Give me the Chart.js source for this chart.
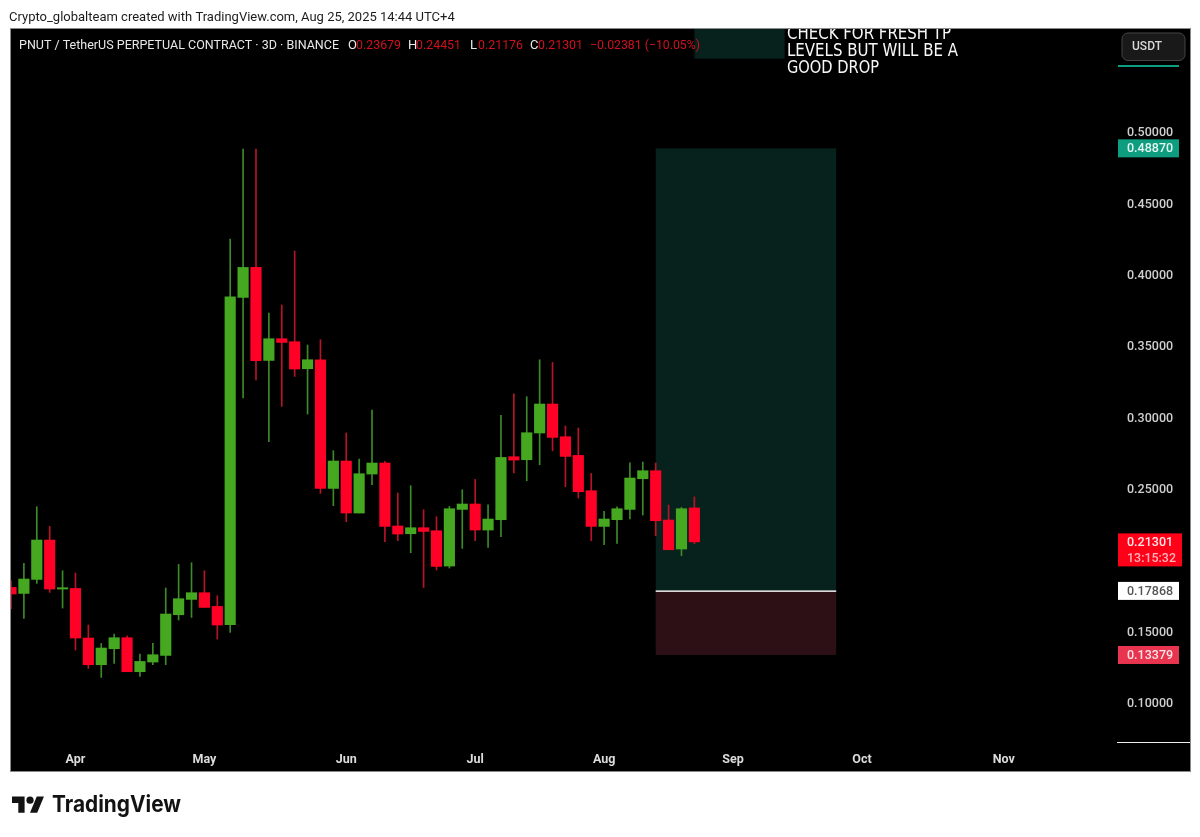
<!DOCTYPE html>
<html>
<head>
<meta charset="utf-8">
<title>PNUT / TetherUS 3D</title>
<script src="https://cdn.jsdelivr.net/npm/chart.js@4/dist/chart.umd.js"></script>
<style>
  html, body { margin: 0; padding: 0; background: #fff; }
  canvas { display: block; }
</style>
</head>
<body>
<canvas id="candles" width="1200" height="837"></canvas>
<script>
// PNUT 3D candles
var openVals = [0.18111, 0.17691, 0.18672, 0.21432, 0.17999, 0.18041, 0.14567, 0.12696, 0.13817, 0.14588,
  0.12206, 0.12885, 0.13348, 0.16199, 0.17271, 0.1774, 0.1678, 0.15498, 0.38427, 0.40528,
  0.34013, 0.35534, 0.35323, 0.33432, 0.34062, 0.25047, 0.26966, 0.23323, 0.26055, 0.26826,
  0.22413, 0.21873, 0.22294, 0.22083, 0.1961, 0.23576, 0.23954, 0.22132, 0.22854, 0.27267,
  0.27057, 0.28928, 0.30959, 0.28668, 0.27358, 0.24886, 0.22385, 0.22854, 0.23576, 0.25726,
  0.26287, 0.22833, 0.20801, 0.23679];
var highVals = [0.18581, 0.19793, 0.23765, 0.22385, 0.19281, 0.1912, 0.15477, 0.14188, 0.14847, 0.14728,
  0.13446, 0.14188, 0.18069, 0.19723, 0.19842, 0.19281, 0.1753, 0.42518, 0.48823, 0.48823,
  0.37334, 0.37895, 0.41677, 0.35092, 0.35464, 0.27688, 0.28928, 0.27106, 0.30539, 0.26938,
  0.24724, 0.25236, 0.23555, 0.23064, 0.23786, 0.24956, 0.25677, 0.23905, 0.30161, 0.31681,
  0.31471, 0.34062, 0.33873, 0.29418, 0.29278, 0.26097, 0.23435, 0.23765, 0.26847, 0.26896,
  0.26826, 0.23884, 0.23716, 0.24451];
var lowVals = [0.16619, 0.1594, 0.18392, 0.17761, 0.16668, 0.13726, 0.12437, 0.11807, 0.12787, 0.12206,
  0.11877, 0.12696, 0.12696, 0.15828, 0.1601, 0.1671, 0.14497, 0.14959, 0.31379, 0.3264,
  0.28318, 0.30791, 0.32893, 0.30259, 0.24696, 0.23835, 0.22714, 0.23323, 0.25306, 0.21313,
  0.21383, 0.20542, 0.18111, 0.1933, 0.1947, 0.20843, 0.21383, 0.20913, 0.21663, 0.26125,
  0.25586, 0.26707, 0.27688, 0.25166, 0.24374, 0.21383, 0.21103, 0.21194, 0.22903, 0.23183,
  0.21733, 0.20752, 0.20332, 0.21176];
var closeVals = [0.17649, 0.187, 0.21432, 0.17999, 0.1809, 0.14567, 0.12696, 0.13866, 0.14588, 0.12206,
  0.12927, 0.13397, 0.16248, 0.1732, 0.1774, 0.1671, 0.15477, 0.38476, 0.40528, 0.34,
  0.35534, 0.35274, 0.33411, 0.34062, 0.25047, 0.26966, 0.23323, 0.26076, 0.26826, 0.22385,
  0.21852, 0.22294, 0.22034, 0.19582, 0.23625, 0.23954, 0.22132, 0.22903, 0.27218, 0.27036,
  0.28949, 0.30959, 0.28619, 0.27288, 0.24815, 0.22385, 0.22903, 0.23625, 0.25775, 0.26287,
  0.22784, 0.20752, 0.23625, 0.21301];

var priceTicks = [0.10, 0.15, 0.20, 0.25, 0.30, 0.35, 0.40, 0.45, 0.50];
var monthLabels = ['Apr', 'May', 'Jun', 'Jul', 'Aug', 'Sep', 'Oct', 'Nov'];
var monthBars = [5, 15, 26, 36, 46, 56, 66, 77];

// long position tool
var entryPrice = 0.17868;
var targetPrice = 0.4887;
var stopPrice = 0.13379;
var lastPrice = 0.21301;
var boxBars = [50, 64];
// the other position, mostly scrolled off the top
var topBoxBars = [53, 60];
var topBoxPrices = [0.5515, 0.5723];

var green = '#45a820';
var red = '#ff0027';
var greenWick = '#3c8a28';
var redWick = '#b81428';
var font = 'Roboto, sans-serif';

var bodies = openVals.map(function(o, i) { return { x: i, y: [o, closeVals[i]] }; });
var wicks = openVals.map(function(o, i) { return { x: i, y: [lowVals[i], highVals[i]] }; });
var bodyColors = openVals.map(function(o, i) { return closeVals[i] >= o ? green : red; });
var wickColors = openVals.map(function(o, i) { return closeVals[i] >= o ? greenWick : redWick; });

// background and frame go under everything, zones go under the candles
var zones = {
  id: 'zones',
  beforeDraw: function(chart) {
    var c = chart.ctx;
    c.save();
    c.fillStyle = '#fff';
    c.fillRect(0, 0, 1200, 837);
    c.fillStyle = '#000';
    c.fillRect(11, 29, 1179, 742);
    c.strokeStyle = '#8a8a8a';
    c.lineWidth = 1;
    c.strokeRect(10.5, 28.5, 1180, 743);
    c.restore();
  },
  beforeDatasetsDraw: function(chart) {
    var c = chart.ctx, xs = chart.scales.x, ys = chart.scales.y;
    var x0 = xs.getPixelForValue(boxBars[0]), x1 = xs.getPixelForValue(boxBars[1]);
    var yT = ys.getPixelForValue(targetPrice), yE = ys.getPixelForValue(entryPrice), yS = ys.getPixelForValue(stopPrice);
    c.save();
    c.fillStyle = '#07211c';
    c.fillRect(x0, yT, x1 - x0, yE - yT);
    c.fillStyle = '#2c1015';
    c.fillRect(x0, yE, x1 - x0, yS - yE);
    var tx0 = xs.getPixelForValue(topBoxBars[0]), tx1 = xs.getPixelForValue(topBoxBars[1]);
    var ty0 = ys.getPixelForValue(topBoxPrices[1]), ty1 = ys.getPixelForValue(topBoxPrices[0]);
    c.fillStyle = '#07211c';
    c.fillRect(tx0, ty0, tx1 - tx0, ty1 - ty0);
    c.fillStyle = '#f0f0f0';
    c.fillRect(x0, yE - 0.5, x1 - x0, 1.5);
    c.restore();
  }
};

function tag(c, ys, price, text, bg, fg, w) {
  var y = ys.getPixelForValue(price);
  c.fillStyle = bg;
  c.fillRect(1118, y - 9, w, 18);
  c.fillStyle = fg;
  c.textAlign = 'left';
  c.textBaseline = 'middle';
  c.font = '500 12.5px ' + font;
  c.fillText(text, 1127, y + 0.5);
}

var overlay = {
  id: 'overlay',
  afterDraw: function(chart) {
    var c = chart.ctx, ys = chart.scales.y;
    c.save();

    // texts on the white margin
    c.fillStyle = '#1c1c1c';
    c.textBaseline = 'alphabetic';
    c.textAlign = 'left';
    c.font = '13px ' + font;
    c.fillText('Crypto_globalteam created with TradingView.com, Aug 25, 2025 14:44 UTC+4', 9, 21, 447);

    // legend line
    c.font = '13px ' + font;
    var ohlc = [
      ['O', 348, '0.23679', 356], ['H', 408, '0.24451', 416],
      ['L', 470, '0.21176', 478], ['C', 530, '0.21301', 538]
    ];
    c.fillStyle = '#e8e8e8';
    c.fillText('PNUT / TetherUS PERPETUAL CONTRACT · 3D · BINANCE', 19, 49, 320);
    ohlc.forEach(function(p) {
      c.fillStyle = '#e8e8e8';
      c.fillText(p[0], p[1], 49);
      c.fillStyle = '#d0101f';
      c.fillText(p[2], p[3], 49, 45);
    });
    c.fillText('−0.02381 (−10.05%)', 590, 49, 110);

    // note text, cut off by the top of the pane
    c.save();
    c.beginPath();
    c.rect(11, 29, 1179, 742);
    c.clip();
    c.fillStyle = '#f8f8f8';
    c.font = '17px "DejaVu Sans Condensed", "DejaVu Sans", sans-serif';
    c.fillText('CHECK FOR FRESH TP', 787, 38.5, 164);
    c.fillText('LEVELS BUT WILL BE A', 787, 56, 171);
    c.fillText('GOOD DROP', 787, 73, 92);
    c.restore();

    // currency button
    c.fillStyle = '#191919';
    c.strokeStyle = '#444';
    c.lineWidth = 1;
    c.beginPath();
    c.roundRect(1122, 33, 63, 27.5, 6);
    c.fill();
    c.stroke();
    c.fillStyle = '#d8d8d8';
    c.font = '500 12.5px ' + font;
    c.textBaseline = 'middle';
    c.fillText('USDT', 1132, 47, 30);
    c.fillStyle = '#0f9d80';
    c.fillRect(1118, 65, 61, 2);

    // price tags
    tag(c, ys, targetPrice, targetPrice.toFixed(5), '#0f9d80', '#e6f5f1', 61);
    tag(c, ys, entryPrice, entryPrice.toFixed(5), '#fff', '#555', 61);
    tag(c, ys, stopPrice, stopPrice.toFixed(5), '#e8344e', '#fbe3e6', 61);

    var yLast = ys.getPixelForValue(lastPrice);
    c.fillStyle = '#ff0018';
    c.fillRect(1118, yLast - 8.5, 64, 33);
    c.fillStyle = '#ffe6e8';
    c.font = '500 12.5px ' + font;
    c.fillText(lastPrice.toFixed(5), 1127, yLast + 0.5);
    c.fillStyle = '#ffb3ba';
    c.fillText('13:15:32', 1127, yLast + 16.5, 49);

    // short white line at the axis corner
    c.fillStyle = '#eee';
    c.fillRect(1117, 742, 73, 1);

    // TradingView mark
    c.save();
    c.translate(12, 793);
    c.scale(0.9, 0.9);
    c.fillStyle = '#131313';
    c.fill(new Path2D('M14 22H7V11H0V4h14v18zM28 22h-8l7.5-18h8L28 22z'));
    c.beginPath();
    c.arc(20, 8, 4, 0, Math.PI * 2);
    c.fill();
    c.restore();
    c.fillStyle = '#131313';
    c.textBaseline = 'alphabetic';
    c.font = '700 23px Inter, sans-serif';
    c.fillText('TradingView', 52, 812, 129);
    c.restore();
  }
};

new Chart(document.getElementById('candles'), {
  type: 'bar',
  data: {
    datasets: [{
      data: bodies,
      backgroundColor: bodyColors,
      barThickness: 10.5,
      grouped: false,
      order: 1
    }, {
      data: wicks,
      backgroundColor: wickColors,
      barThickness: 1,
      grouped: false,
      order: 2
    }]
  },
  options: {
    responsive: false,
    animation: false,
    layout: {
      padding: { left: 11, top: 29, right: 10, bottom: 66 }
    },
    plugins: {
      legend: { display: false },
      tooltip: { enabled: false }
    },
    scales: {
      x: {
        type: 'linear',
        offset: false,
        min: 0,
        max: 85.7,
        grid: { display: false },
        border: { display: false },
        afterBuildTicks: function(scale) {
          scale.ticks = monthBars.map(function(b) { return { value: b }; });
        },
        afterFit: function(scale) { scale.height = 28; },
        ticks: {
          autoSkip: false,
          maxRotation: 0,
          padding: 1,
          color: '#dcdcdc',
          font: { family: 'Roboto', size: 12.5, weight: '700' },
          callback: function(value) {
            return monthLabels[monthBars.indexOf(value)];
          }
        }
      },
      y: {
        position: 'right',
        min: 0.07213,
        max: 0.5723,
        grid: { display: false },
        border: { display: false },
        afterBuildTicks: function(scale) {
          scale.ticks = priceTicks.map(function(p) { return { value: p }; });
        },
        afterFit: function(scale) { scale.width = 74; },
        ticks: {
          crossAlign: 'near',
          padding: 3,
          labelOffset: 1,
          color: '#cfcfcf',
          font: { family: 'Roboto', size: 12.5, weight: '500' },
          callback: function(value) { return value.toFixed(5); }
        }
      }
    }
  },
  plugins: [zones, overlay]
});
</script>
</body>
</html>
